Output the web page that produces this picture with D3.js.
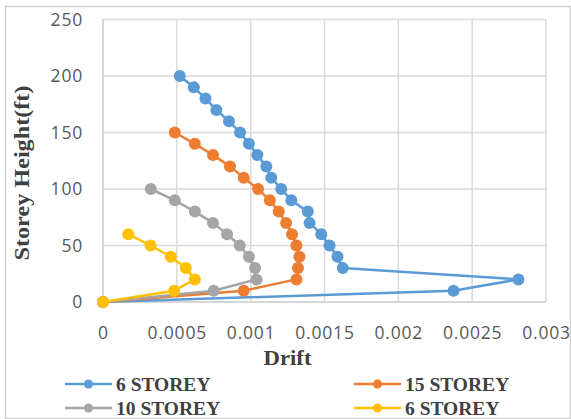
<!DOCTYPE html>
<html><head><meta charset="utf-8">
<script src="https://cdn.jsdelivr.net/npm/d3@7"></script>
<style>body{margin:0;background:#fff}svg{display:block}</style>
</head><body>
<script>
const seriesNames = ["6 STOREY","15 STOREY","10 STOREY","6 STOREY"];
const seriesColors = ["#5B9BD5","#ED7D31","#A5A5A5","#FFC000"];
const heights6a = [200,190,180,170,160,150,140,130,120,110,100,90,80,70,60,50,40,30,20,10,0];
const drift6a = [0.00052,0.000615,0.000694,0.000768,0.000853,0.000928,0.000988,0.001045,0.001106,0.00114,0.001207,0.001275,0.001387,0.001399,0.001478,0.001534,0.001588,0.001624,0.002813,0.002374,0];
const heights15 = [150,140,130,120,110,100,90,80,70,60,50,40,30,20,10,0];
const drift15 = [0.000486,0.000622,0.000745,0.00086,0.000953,0.00105,0.00113,0.00119,0.00124,0.00128,0.00131,0.00133,0.00132,0.00131,0.000953,0];
const heights10 = [100,90,80,70,60,50,40,30,20,10,0];
const drift10 = [0.000324,0.000486,0.000622,0.000745,0.00084,0.000926,0.000988,0.00103,0.00104,0.00075,0];
const heights6b = [60,50,40,30,20,10,0];
const drift6b = [0.000171,0.000322,0.000459,0.000561,0.000622,0.000482,0];
const xTicks = [0,0.0005,0.001,0.0015,0.002,0.0025,0.003];
const yTicks = [0,50,100,150,200,250];

const W=571,H=419;
const svg=d3.select("body").append("svg").attr("width",W).attr("height",H);
svg.append("rect").attr("x",5.5).attr("y",6.5).attr("width",565).attr("height",412)
  .attr("fill","#fff").attr("stroke","#d0d0d0").attr("stroke-width",1.5);

const m={l:103,r:546,t:19.5,b:302};
const x=d3.scaleLinear().domain([0,0.003]).range([m.l,m.r]);
const y=d3.scaleLinear().domain([0,250]).range([m.b,m.t]);

// gridlines
const g=svg.append("g");
g.selectAll("line.h").data(yTicks).join("line")
  .attr("x1",m.l).attr("x2",m.r).attr("y1",d=>y(d)).attr("y2",d=>y(d))
  .attr("stroke",d=>d===0?"#c8c8c8":"#d9d9d9").attr("stroke-width",1.5);
g.selectAll("line.v").data(xTicks).join("line")
  .attr("y1",m.t).attr("y2",m.b).attr("x1",d=>x(d)).attr("x2",d=>x(d))
  .attr("stroke",d=>d===0?"#c8c8c8":"#d9d9d9").attr("stroke-width",1.5);

// axes (labels only)
const tickFont={"font-family":"'Open Sans', sans-serif","font-size":"17.5px","fill":"#595959","letter-spacing":"0.8px"};
const fmt=d=>d===0?"0":String(d);
const xa=svg.append("g").attr("transform",`translate(0,${m.b})`)
  .call(d3.axisBottom(x).tickValues(xTicks).tickFormat(fmt).tickSize(0).tickPadding(25));
xa.select(".domain").remove();
xa.selectAll("text").each(function(){const s=d3.select(this);for(const k in tickFont)s.style(k,tickFont[k]);});
const ya=svg.append("g").attr("transform",`translate(${m.l},0)`)
  .call(d3.axisLeft(y).tickValues(yTicks).tickSize(0).tickPadding(20));
ya.select(".domain").remove();
ya.selectAll("text").each(function(){const s=d3.select(this);for(const k in tickFont)s.style(k,tickFont[k]);});

// series
const data=[[drift6a,heights6a],[drift15,heights15],[drift10,heights10],[drift6b,heights6b]];
const line=d3.line().x(d=>x(d[0])).y(d=>y(d[1]));
data.forEach((s,i)=>{
  const pts=s[0].map((v,j)=>[v,s[1][j]]);
  const gs=svg.append("g");
  gs.append("path").datum(pts).attr("d",line).attr("fill","none")
    .attr("stroke",seriesColors[i]).attr("stroke-width",2.5).attr("stroke-linejoin","round");
  gs.selectAll("circle").data(pts).join("circle")
    .attr("cx",d=>x(d[0])).attr("cy",d=>y(d[1])).attr("r",6).attr("fill",seriesColors[i]);
});

// titles
svg.append("text").attr("x",287.5).attr("y",365).attr("text-anchor","middle")
  .attr("font-family","'Liberation Serif', 'Times New Roman', serif").attr("font-weight","bold")
  .attr("font-size","22px").attr("fill","#404040").attr("textLength",48).attr("lengthAdjust","spacingAndGlyphs").text("Drift");
svg.append("text").attr("transform","translate(29,173) rotate(-90)").attr("text-anchor","middle")
  .attr("font-family","'Liberation Serif', 'Times New Roman', serif").attr("font-weight","bold")
  .attr("font-size","21px").attr("fill","#404040").attr("textLength",175).attr("lengthAdjust","spacingAndGlyphs").text("Storey Height(ft)");

// legend
const legPos=[[65,384],[354,384],[65,408],[354,408]];
seriesNames.forEach((n,i)=>{
  const [lx,ly]=legPos[i];
  const lg=svg.append("g");
  lg.append("line").attr("x1",lx).attr("x2",lx+47).attr("y1",ly).attr("y2",ly)
    .attr("stroke",seriesColors[i]).attr("stroke-width",2.5);
  lg.append("circle").attr("cx",lx+23.5).attr("cy",ly).attr("r",4.5).attr("fill",seriesColors[i]);
  lg.append("text").attr("x",lx+51).attr("y",ly+7)
    .attr("font-family","'Liberation Serif', 'Times New Roman', serif").attr("font-weight","bold")
    .attr("font-size","19.5px").attr("fill","#404040").text(n);
});
</script>
</body></html>
